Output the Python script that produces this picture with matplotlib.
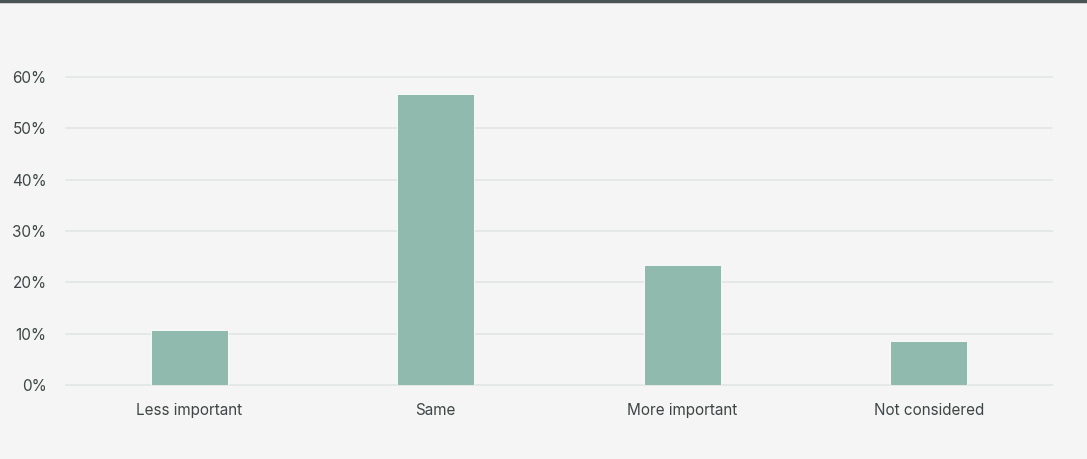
import matplotlib
matplotlib.use("Agg")
import matplotlib.pyplot as plt
from matplotlib.ticker import FuncFormatter, MultipleLocator

categories = ["Less important", "Same", "More important", "Not considered"]
values = [10.7, 56.7, 23.3, 8.5]

plt.rcParams['font.family'] = ['Inter', 'DejaVu Sans']

BG = "#f5f5f5"
BAR = "#8fbaad"
GRID = "#e1e6e4"
TEXT = "#3d4645"

fig = plt.figure(figsize=(10.87, 4.59), dpi=100, facecolor=BG)
ax = fig.add_axes([66/1087, 1 - 385/459, (1052-66)/1087, (385-77)/459])
ax.set_facecolor(BG)

x = list(range(len(categories)))
ax.bar(x, values, width=0.314, color=BAR, edgecolor="white", linewidth=0.6, zorder=3)

ax.set_xlim(-0.5, 3.5)
ax.set_ylim(0, 60)
ax.yaxis.set_major_locator(MultipleLocator(10))
ax.yaxis.set_major_formatter(FuncFormatter(lambda v, p: f"{int(v)}%"))
ax.set_xticks(x)
ax.set_xticklabels(categories)
ax.grid(axis='y', color=GRID, linewidth=1.2, zorder=0)
for gl in ax.get_ygridlines():
    gl.set_clip_on(False)
ax.set_axisbelow(True)
for s in ax.spines.values():
    s.set_visible(False)
ax.tick_params(axis='both', length=0, colors=TEXT, labelsize=11)
ax.tick_params(axis='y', pad=14)
ax.tick_params(axis='x', pad=13)

fig.add_artist(plt.Line2D([0, 1], [1 - 1/459, 1 - 1/459], color="#4a5553", linewidth=2.5, transform=fig.transFigure))

fig.savefig("out.png", dpi=100, facecolor=BG)
